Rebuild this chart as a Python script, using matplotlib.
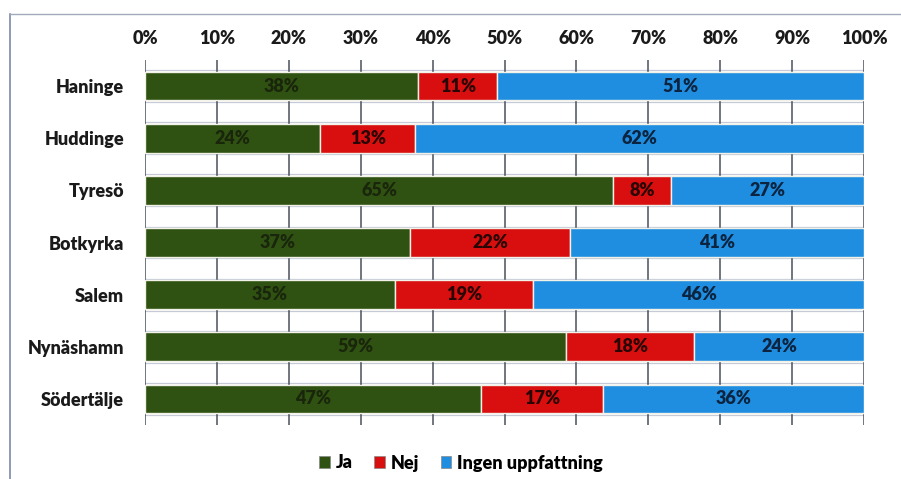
import matplotlib
matplotlib.use("Agg")
import matplotlib.pyplot as plt
from matplotlib.lines import Line2D
from matplotlib.patches import Patch
import numpy as np

categories = ["Haninge", "Huddinge", "Tyresö", "Botkyrka", "Salem", "Nynäshamn", "Södertälje"]
ja = [38.0, 24.4, 65.1, 36.9, 34.8, 58.6, 46.7]
nej = [11.0, 13.2, 8.1, 22.2, 19.2, 17.8, 17.0]
ingen = [51.0, 62.4, 26.8, 40.9, 46.0, 23.6, 36.3]
series_names = ["Ja", "Nej", "Ingen uppfattning"]
xticks = [0, 10, 20, 30, 40, 50, 60, 70, 80, 90, 100]

colors = ["#2f5212", "#d90f0f", "#1f8ee0"]
text_colors = ["#1a260c", "#2a0505", "#0d2440"]

plt.rcParams['font.family'] = ['Lato', 'DejaVu Sans']
plt.rcParams['font.weight'] = 'heavy'
W8 = 'heavy'

W, H = 901, 479
fig = plt.figure(figsize=(W/100, H/100), dpi=100)
fig.patch.set_facecolor("white")

# outer frame (top and left)
fig.add_artist(Line2D([10/W, 10/W], [0, 1 - 14/H], transform=fig.transFigure, color="#7a8aa8", lw=1.2))
fig.add_artist(Line2D([10/W, 1], [1 - 14/H, 1 - 14/H], transform=fig.transFigure, color="#a0aabb", lw=1.0))

left, right = 145/W, 864/W
top, bottom = 1 - 60/H, 1 - 425/H
ax = fig.add_axes([left, bottom, right - left, top - bottom])

y = np.arange(len(categories))
bh = 0.55
data = [ja, nej, ingen]
lefts = np.zeros(len(categories))
for vals, c, tc in zip(data, colors, text_colors):
    vals = np.array(vals)
    ax.barh(y, vals, left=lefts, height=bh, color=c, edgecolor="#f2f2e8", linewidth=1.0, zorder=3)
    for yi, v, l in zip(y, vals, lefts):
        ax.text(l + v/2, yi, f"{int(round(v))}%", ha="center", va="center",
                fontsize=13, fontweight=W8, color=tc, zorder=4)
    lefts = lefts + vals

# faint horizontal lines at bar edges
for yi in y:
    for e in (yi - bh/2 - 0.03, yi + bh/2 + 0.03):
        ax.axhline(e, color="#c5cad6", lw=0.9, zorder=1)

ax.set_xlim(0, 100)
ax.set_ylim(len(categories) - 0.5, -0.5)
ax.set_xticks(xticks)
ax.set_xticklabels([f"{t}%" for t in xticks], fontsize=13, fontweight=W8, color="#1a1a1a")
ax.xaxis.tick_top()
ax.tick_params(axis="x", length=0, pad=9)
ax.set_yticks(y)
ax.set_yticklabels(categories, fontsize=13, fontweight=W8, color="#1a1a1a")
ax.tick_params(axis="y", length=0, pad=15)
ax.grid(axis="x", color="#4a4f5a", lw=1.1, zorder=0)
for s in ax.spines.values():
    s.set_visible(False)

handles = [Patch(facecolor=c, edgecolor="#888888", lw=0.5) for c in colors]
fig.legend(handles, series_names, loc="center", bbox_to_anchor=(461/W, 1 - 463/H), ncol=3,
           frameon=False, handlelength=0.6, handleheight=0.6,
           handletextpad=0.3, columnspacing=1.2, prop={'weight': W8, 'size': 13})

fig.savefig("out.png", dpi=100, facecolor="white")
